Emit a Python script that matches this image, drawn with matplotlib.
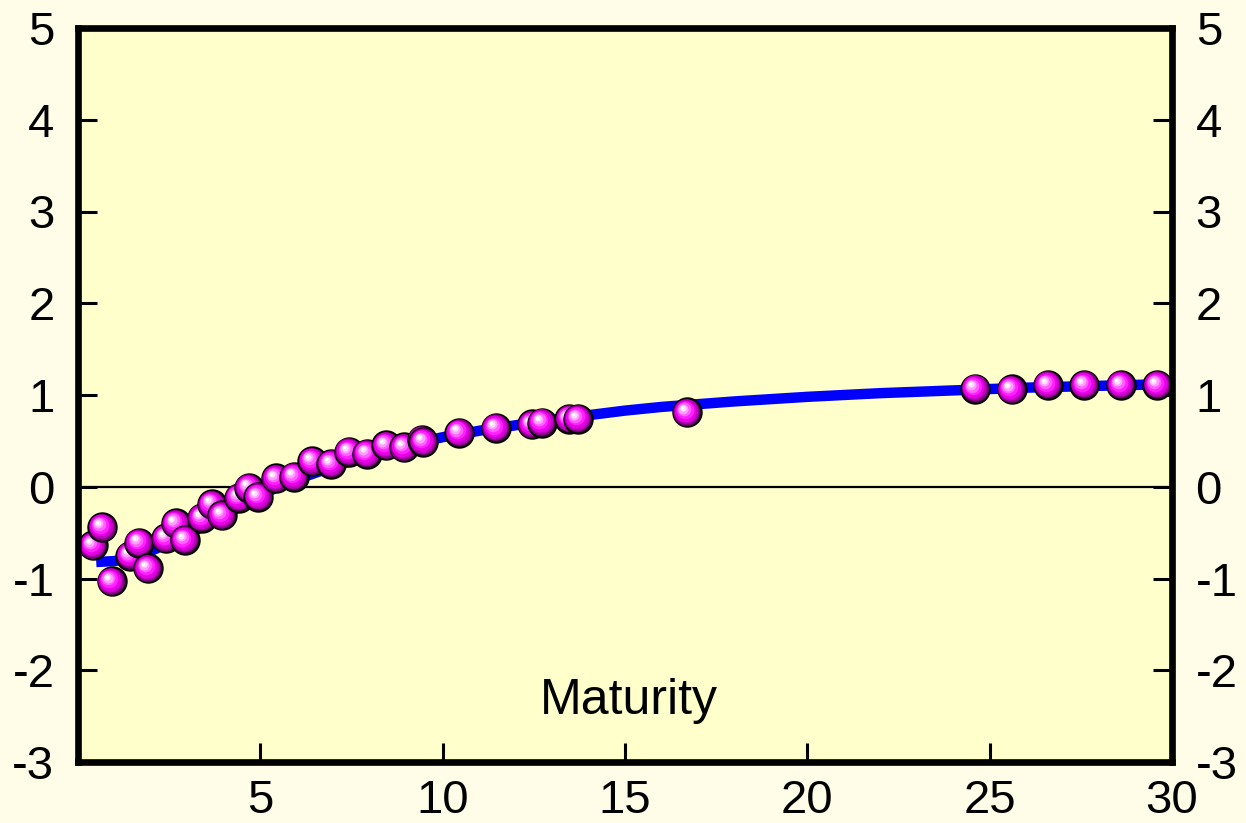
import matplotlib
matplotlib.use('Agg')
import matplotlib.pyplot as plt
import matplotlib.transforms as mtransforms

# observed yields (maturity in years, value)
mat = [0.41, 0.66, 0.92, 1.43, 1.67, 1.92, 2.41, 2.68, 2.93, 3.40, 3.67, 3.95,
       4.41, 4.69, 4.94, 5.43, 5.92, 6.42, 6.94, 7.43, 7.92, 8.45, 8.94, 9.43,
       9.47, 10.45, 11.46, 12.45, 12.72, 13.47, 13.71, 16.70,
       24.6, 25.6, 26.6, 27.6, 28.6, 29.6]
obs = [-0.64, -0.44, -1.03, -0.75, -0.61, -0.89, -0.56, -0.40, -0.58, -0.34, -0.19, -0.31,
       -0.12, -0.01, -0.11, 0.09, 0.11, 0.28, 0.25, 0.38, 0.36, 0.45, 0.43, 0.51,
       0.49, 0.59, 0.64, 0.68, 0.70, 0.74, 0.74, 0.81,
       1.07, 1.06, 1.11, 1.11, 1.11, 1.11]

# fitted curve
fit_x = [0.5, 1, 1.5, 2, 2.5, 3, 3.5, 4, 4.5, 5, 5.5, 6, 7, 8, 9, 10, 11, 12,
         13, 14, 15, 16, 17, 18, 20, 22, 24, 26, 28, 30]
fit_y = [-0.82, -0.81, -0.77, -0.70, -0.61, -0.52, -0.42, -0.31, -0.20, -0.09,
         0.0, 0.08, 0.22, 0.34, 0.45, 0.54, 0.61, 0.67, 0.73, 0.78, 0.83, 0.87,
         0.90, 0.93, 0.98, 1.02, 1.05, 1.08, 1.10, 1.12]

xticks = [5, 10, 15, 20, 25, 30]
yticks = [-3, -2, -1, 0, 1, 2, 3, 4, 5]

plt.rcParams['font.family'] = ['Liberation Sans', 'DejaVu Sans']
plt.rcParams['axes.unicode_minus'] = False

fig = plt.figure(figsize=(12.46, 8.23), dpi=100, facecolor='#FFFDE7')
ax = fig.add_axes([78 / 1246, 61 / 823, 1094 / 1246, 734 / 823])
ax.set_facecolor('#FFFFCC')

ax.axhline(0, color='black', lw=1.6, zorder=2)
ax.plot(fit_x, fit_y, color='#0000FF', lw=7.5, zorder=3, solid_capstyle='butt')

# pseudo 3D spheres: dark rim, magenta body, white highlight upper left
layers = [(1.00, '#300030', 0.0), (0.93, '#800080', 0.4), (0.85, '#C000C0', 0.8),
          (0.75, '#E800E8', 1.2), (0.62, '#FF20FF', 1.7), (0.48, '#FF60FF', 2.2),
          (0.35, '#FFA0FF', 2.7), (0.22, '#FFDDFF', 3.1), (0.12, '#FFFFFF', 3.4)]
ms = 20.5
z = 4
for x, y in zip(mat, obs):
    for frac, col, off in layers:
        tr = mtransforms.offset_copy(ax.transData, fig=fig, x=-off, y=off, units='points')
        if frac == 1.0:
            ax.plot([x], [y], 'o', ms=ms, color=col, mec='black', mew=1.4,
                    transform=ax.transData, zorder=z)
        else:
            ax.plot([x], [y], 'o', ms=ms * frac, color=col, mew=0,
                    transform=tr, zorder=z)
        z += 0.01

ax.set_xlim(0, 30)
ax.set_ylim(-3, 5)
ax.set_xticks(xticks)
ax.set_yticks(yticks)
ax.tick_params(axis='both', direction='in', length=14, width=2.2, labelsize=34,
               right=True, labelright=True)
ax.tick_params(axis='y', which='both', pad=17)
ax.tick_params(axis='y', labelright=True, pad=17)
ax.tick_params(axis='x', pad=12)
for s in ax.spines.values():
    s.set_linewidth(4.8)
    s.set_zorder(10)

ax.text(15.1, -2.33, 'Maturity', fontsize=36, ha='center', va='center')

fig.savefig('out.png', dpi=100, facecolor=fig.get_facecolor())
